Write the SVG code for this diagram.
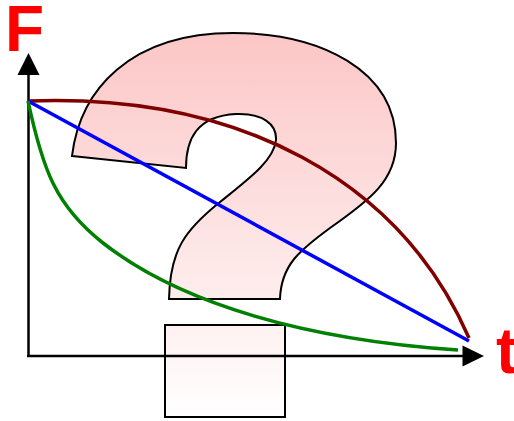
<svg xmlns="http://www.w3.org/2000/svg" width="514" height="421" viewBox="0 0 514 421">
<style>
.shape{stroke:#000;stroke-width:2;stroke-linejoin:miter}
.axis{stroke:#000;stroke-width:2.5;fill:none}
.curve{fill:none;stroke-width:3.5;stroke-linecap:butt}
.lbl{font-family:"Liberation Sans",Arial,sans-serif;font-weight:bold;font-size:64px;fill:#ff0000}
</style>
<defs>
<linearGradient id="pink" gradientUnits="userSpaceOnUse" x1="0" y1="33" x2="0" y2="418">
<stop offset="0" stop-color="#fcc6c6"/>
<stop offset="1" stop-color="#ffffff"/>
</linearGradient>
</defs>
<g id="question-mark">
<path class="shape" fill="url(#pink)" d="M72,156 L186,168 C186,140 196,116 236,114 C262,113 277,124 276,140 C274,160 250,178 220,202 C185,230 170,250 169,299 L280,299 C281,265 300,250 330,228 C370,200 396,180 396,143 C396,70 320,33 233,33 C130,33 80,90 72,156 Z"/>
</g>
<g id="dot">
<rect class="shape" fill="url(#pink)" x="165" y="325" width="120" height="92"/>
</g>
<g id="axes">
<line class="axis" x1="28.5" y1="357" x2="28.5" y2="72"/>
<polygon points="28.5,53 17.5,75 39.5,75" fill="#000"/>
<line class="axis" x1="27" y1="356" x2="465" y2="356"/>
<polygon points="484,356 462.5,345.5 462.5,366.5" fill="#000"/>
</g>
<g id="labels">
<text class="lbl" x="5" y="51">F</text>
<text class="lbl" x="496" y="373">t</text>
</g>
<g id="connectors">
<path class="curve" stroke="#800000" d="M28,101 C240,93 400,180 469,338"/>
<line class="curve" stroke="#0000ff" x1="28" y1="101" x2="469" y2="341"/>
<path class="curve" stroke="#008000" d="M28,101 C42.7,169.6 55.7,206 103,243 C181.8,304.6 308,340 458,350"/>
</g>
</svg>
